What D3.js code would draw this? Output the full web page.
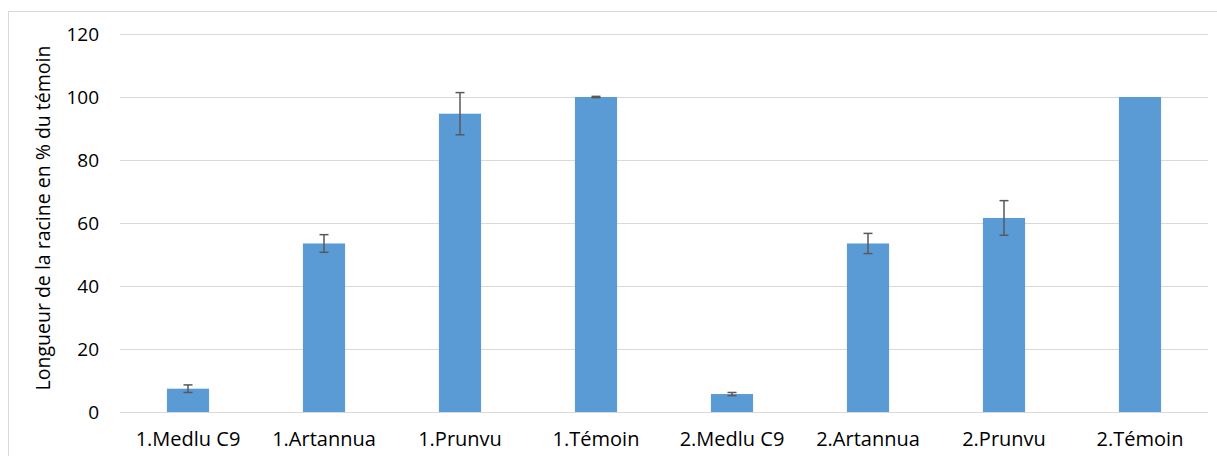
<!DOCTYPE html>
<html>
<head>
<meta charset="utf-8">
<script src="https://cdn.jsdelivr.net/npm/d3@7"></script>
<style>
  html, body { margin: 0; padding: 0; background: #fff; }
  svg { display: block; }
  text { font-family: "Open Sans", "Noto Sans", sans-serif; fill: #000; }
</style>
</head>
<body>
<script>
const categories = ["1.Medlu C9", "1.Artannua", "1.Prunvu", "1.Témoin", "2.Medlu C9", "2.Artannua", "2.Prunvu", "2.Témoin"];
const values = [7.4, 53.5, 94.7, 100, 5.7, 53.5, 61.6, 100];
const errors = [1.2, 2.8, 6.7, 0.2, 0.5, 3.2, 5.5, 0];
const yTicks = [0, 20, 40, 60, 80, 100, 120];
const yTitle = "Longueur de la racine en % du témoin";

const W = 1217, H = 456;
const margin = { left: 120, right: 9, top: 34, bottom: 44 };

const svg = d3.select("body").append("svg").attr("width", W).attr("height", H);

// outer frame
svg.append("rect").attr("x", 8.5).attr("y", 11.5).attr("width", W).attr("height", H)
  .attr("fill", "none").attr("stroke", "#d9d9d9").attr("stroke-width", 1);

const x = d3.scaleBand().domain(categories)
  .range([margin.left, W - margin.right]).paddingInner(0.69).paddingOuter(0.345);
const y = d3.scaleLinear().domain([0, 120]).range([H - margin.bottom, margin.top]);

// gridlines
svg.append("g").selectAll("line").data(yTicks).join("line")
  .attr("x1", margin.left).attr("x2", W - margin.right)
  .attr("y1", d => Math.round(y(d)) + 0.5).attr("y2", d => Math.round(y(d)) + 0.5)
  .attr("stroke", "#d9d9d9").attr("stroke-width", 1);

// y axis labels
const yAxis = d3.axisLeft(y).tickValues(yTicks).tickSize(0).tickPadding(0);
const gy = svg.append("g").attr("transform", `translate(${margin.left - 21},0)`).call(yAxis);
gy.select(".domain").remove();
gy.selectAll("text").style("font-size", "19px").style("font-family", "'Open Sans', sans-serif").attr("fill", "#000");

// x axis labels
const xAxis = d3.axisBottom(x).tickSize(0).tickPadding(0);
const gx = svg.append("g").attr("transform", `translate(0,${H - margin.bottom + 20})`).call(xAxis);
gx.select(".domain").remove();
gx.selectAll("text").style("font-size", "20px").style("font-family", "'Open Sans', sans-serif").attr("fill", "#000");

// bars
svg.append("g").selectAll("rect").data(categories).join("rect")
  .attr("x", d => x(d)).attr("width", x.bandwidth())
  .attr("y", (d, i) => y(values[i])).attr("height", (d, i) => y(0) - y(values[i]))
  .attr("fill", "#5b9bd5");

// error bars
const eb = svg.append("g").attr("stroke", "#595959").attr("stroke-width", 1.5);
categories.forEach((c, i) => {
  if (errors[i] <= 0) return;
  const cx = x(c) + x.bandwidth() / 2;
  const hi = y(values[i] + errors[i]), lo = y(values[i] - errors[i]);
  eb.append("line").attr("x1", cx).attr("x2", cx).attr("y1", hi).attr("y2", lo);
  eb.append("line").attr("x1", cx - 4.5).attr("x2", cx + 4.5).attr("y1", hi).attr("y2", hi);
  eb.append("line").attr("x1", cx - 4.5).attr("x2", cx + 4.5).attr("y1", lo).attr("y2", lo);
});

// y title
svg.append("text")
  .attr("transform", `translate(50,${(y(0) + y(120)) / 2 - 5}) rotate(-90)`)
  .attr("text-anchor", "middle")
  .style("font-size", "19.5px")
  .text(yTitle);
</script>
</body>
</html>
